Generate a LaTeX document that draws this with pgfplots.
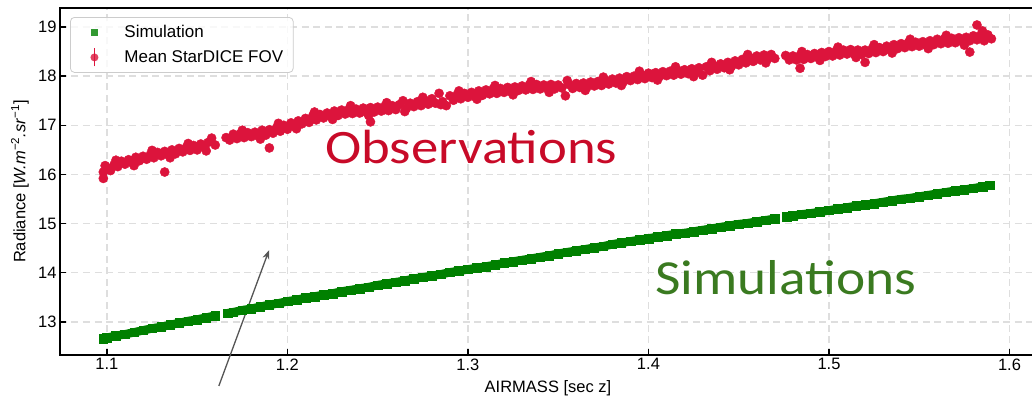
\documentclass[border=0pt]{standalone}
\usepackage{fontspec}
\setmainfont{Liberation Sans}
\newfontfamily\annfont{Carlito}
\usepackage{graphicx}
\usepackage{pgfplots}
\usepackage{pgfplotstable}
\pgfplotsset{compat=1.18}
\usetikzlibrary{arrows.meta}
\definecolor{simgreen}{RGB}{0,128,0}
\definecolor{obsred}{RGB}{220,20,60}
\definecolor{obstext}{RGB}{200,10,40}
\definecolor{simtext}{RGB}{58,122,32}
\definecolor{arrowgray}{RGB}{85,85,85}

\pgfplotstableread{
x y
1.098 12.66
1.100 12.68
1.105 12.72
1.110 12.75
1.115 12.79
1.120 12.83
1.125 12.87
1.130 12.90
1.135 12.94
1.140 12.98
1.145 13.02
1.150 13.05
1.155 13.09
1.160 13.13
1.163 nan
1.167 13.18
1.170 13.20
1.175 13.24
1.180 13.27
1.185 13.31
1.190 13.35
1.195 13.38
1.200 13.42
1.205 13.45
1.210 13.49
1.215 13.52
1.220 13.55
1.225 13.58
1.230 13.62
1.235 13.65
1.240 13.68
1.245 13.71
1.250 13.75
1.255 13.78
1.260 13.81
1.265 13.84
1.270 13.88
1.275 13.91
1.280 13.94
1.285 13.97
1.290 14.01
1.295 14.04
1.300 14.07
1.305 14.10
1.310 14.13
1.315 14.16
1.320 14.20
1.325 14.23
1.330 14.26
1.335 14.29
1.340 14.32
1.345 14.35
1.350 14.39
1.355 14.42
1.360 14.45
1.365 14.48
1.370 14.51
1.375 14.54
1.380 14.58
1.385 14.61
1.390 14.64
1.395 14.67
1.400 14.70
1.405 14.73
1.410 14.76
1.415 14.79
1.420 14.81
1.425 14.84
1.430 14.87
1.435 14.90
1.440 14.93
1.445 14.96
1.450 14.99
1.455 15.01
1.460 15.04
1.465 15.07
1.470 15.10
1.473 nan
1.4765 15.14
1.480 15.16
1.485 15.19
1.490 15.21
1.495 15.24
1.500 15.27
1.505 15.30
1.510 15.33
1.515 15.36
1.520 15.38
1.525 15.41
1.530 15.44
1.535 15.47
1.540 15.50
1.545 15.52
1.550 15.55
1.555 15.58
1.560 15.61
1.565 15.64
1.570 15.67
1.575 15.69
1.580 15.72
1.585 15.75
1.589 15.78
}\simdata

\pgfplotstableread{
x y
1.098 15.92
1.098 16.05
1.099 16.18
1.100 16.14
1.102 16.08
1.104 16.20
1.106 16.16
1.108 16.27
1.110 16.21
1.112 16.30
1.114 16.24
1.116 16.35
1.118 16.28
1.120 16.37
1.122 16.31
1.124 16.40
1.126 16.34
1.128 16.45
1.130 16.38
1.132 16.05
1.132 16.47
1.134 16.40
1.136 16.50
1.138 16.42
1.140 16.53
1.142 16.46
1.144 16.55
1.146 16.49
1.148 16.59
1.150 16.50
1.152 16.62
1.154 16.55
1.156 16.65
1.158 16.74
1.160 16.60
1.166 16.75
1.168 16.70
1.170 16.82
1.172 16.73
1.174 16.83
1.176 16.75
1.178 16.85
1.180 16.77
1.182 16.86
1.184 16.78
1.186 16.90
1.188 16.80
1.190 16.54
1.190 16.91
1.192 16.84
1.194 16.95
1.196 16.88
1.198 17.00
1.200 16.92
1.202 17.05
1.204 16.97
1.206 17.09
1.208 17.03
1.210 17.14
1.212 17.06
1.214 17.19
1.216 17.11
1.218 17.22
1.220 17.15
1.222 17.25
1.224 17.18
1.226 17.29
1.228 17.20
1.230 17.31
1.232 17.23
1.234 17.32
1.236 17.24
1.238 17.33
1.240 17.25
1.242 17.35
1.244 17.26
1.246 17.07
1.246 17.36
1.248 17.27
1.250 17.37
1.252 17.29
1.254 17.39
1.256 17.30
1.258 17.40
1.260 17.32
1.262 17.42
1.264 17.50
1.266 17.35
1.268 17.45
1.270 17.38
1.272 17.48
1.274 17.40
1.276 17.51
1.278 17.43
1.280 17.54
1.282 17.45
1.284 17.65
1.286 17.48
1.288 17.40
1.290 17.60
1.292 17.51
1.294 17.62
1.296 17.54
1.298 17.65
1.300 17.57
1.302 17.67
1.304 17.58
1.306 17.70
1.308 17.61
1.310 17.72
1.312 17.64
1.314 17.74
1.316 17.65
1.318 17.75
1.320 17.67
1.322 17.77
1.324 17.68
1.326 17.78
1.328 17.71
1.330 17.80
1.332 17.72
1.334 17.82
1.336 17.73
1.338 17.83
1.340 17.74
1.342 17.82
1.344 17.75
1.346 17.83
1.348 17.74
1.350 17.82
1.352 17.76
1.354 17.60
1.356 17.83
1.358 17.75
1.360 17.85
1.362 17.77
1.364 17.86
1.366 17.78
1.368 17.88
1.370 17.80
1.372 17.89
1.374 17.81
1.376 17.92
1.378 17.84
1.380 17.94
1.382 17.86
1.384 17.96
1.386 17.88
1.388 17.99
1.390 17.91
1.392 18.00
1.394 17.93
1.396 18.03
1.398 17.95
1.400 18.06
1.402 17.97
1.404 18.07
1.406 17.99
1.408 18.09
1.410 18.01
1.412 18.10
1.414 18.02
1.416 18.12
1.418 18.04
1.420 18.13
1.422 18.05
1.424 18.15
1.426 18.07
1.428 18.17
1.430 18.02
1.432 18.19
1.434 18.11
1.436 18.22
1.438 18.14
1.440 18.25
1.442 18.17
1.444 18.28
1.446 18.20
1.448 18.31
1.450 18.23
1.452 18.34
1.454 18.27
1.456 18.38
1.458 18.30
1.460 18.41
1.462 18.33
1.464 18.43
1.466 18.35
1.468 18.44
1.470 18.36
1.476 18.42
1.478 18.33
1.480 18.41
1.482 18.33
1.484 18.16
1.484 18.42
1.486 18.34
1.488 18.44
1.490 18.36
1.492 18.46
1.494 18.38
1.496 18.48
1.498 18.40
1.500 18.50
1.502 18.41
1.504 18.51
1.506 18.43
1.508 18.53
1.510 18.45
1.512 18.54
1.514 18.45
1.516 18.53
1.518 18.44
1.520 18.28
1.520 18.53
1.522 18.46
1.524 18.56
1.526 18.48
1.528 18.58
1.530 18.50
1.532 18.61
1.534 18.53
1.536 18.64
1.538 18.56
1.540 18.66
1.542 18.58
1.544 18.68
1.546 18.60
1.548 18.69
1.550 18.61
1.552 18.70
1.554 18.63
1.556 18.72
1.558 18.64
1.560 18.75
1.562 18.66
1.564 18.76
1.566 18.67
1.568 18.77
1.570 18.68
1.572 18.78
1.574 18.70
1.576 18.79
1.578 18.49
1.578 18.72
1.580 18.82
1.582 19.04
1.582 18.74
1.584 18.83
1.586 18.72
1.588 18.84
1.590 18.76
1.105 16.29
1.115 16.18
1.125 16.49
1.135 16.34
1.145 16.63
1.155 16.48
1.175 16.90
1.185 16.72
1.195 17.04
1.205 16.93
1.215 17.27
1.225 17.12
1.235 17.40
1.245 17.20
1.255 17.46
1.265 17.28
1.275 17.57
1.285 17.42
1.295 17.70
1.305 17.53
1.315 17.81
1.325 17.62
1.335 17.89
1.345 17.67
1.355 17.91
1.365 17.71
1.375 17.98
1.385 17.81
1.395 18.10
1.405 17.92
1.415 18.19
1.425 17.99
1.435 18.28
1.445 18.13
1.455 18.44
1.465 18.27
1.485 18.50
1.495 18.32
1.505 18.59
1.515 18.38
1.525 18.64
1.535 18.47
1.545 18.75
1.555 18.56
1.565 18.83
1.575 18.63
1.585 18.92
}\obsdata

\begin{document}
\begin{tikzpicture}
\begin{axis}[
  scale only axis, width=976pt, height=347pt,
  xmin=1.074, xmax=1.6147, ymin=12.329, ymax=19.386,
  xtick={1.1,1.2,1.3,1.4,1.5,1.6},
  xticklabels={1.1,1.2,1.3,1.4,1.5,1.6},
  ytick={13,14,15,16,17,18,19},
  tick pos=left,
  tick align=inside, major tick length=6pt,
  tick style={black, line width=1.3pt},
  axis line style={line width=1.3pt},
  grid=major,
  major grid style={black!13, line width=1.3pt, dash pattern=on 7pt off 4.5pt},
  /pgf/number format/assume math mode=true,
  ticklabel style={font=\fontsize{16.5}{20}\selectfont},
  label style={font=\fontsize{16.5}{20}\selectfont},
  xlabel={AIRMASS [sec z]},
  ylabel={Radiance [\textit{W.m}\textsuperscript{−2}\textit{.sr}\textsuperscript{−1}]},
  x label style={at={(axis description cs:0.5,0)}, anchor=base, yshift=-38pt},
  y label style={at={(axis description cs:-0.041,0.5)}, anchor=center},
  title={Date of observation = 2023\_05\_17},
  title style={at={(axis description cs:0.5,1)}, anchor=base, yshift=7pt, font=\fontsize{16.5}{20}\selectfont, text=black!75},
  clip=false,
  unbounded coords=jump,
  legend style={at={(axis description cs:0.0103,0.974)}, anchor=north west,
    draw=black!20, line width=0.8pt, rounded corners=4pt, fill=white,
    fill opacity=0.8, draw opacity=1, text opacity=1,
    font=\fontsize{17}{20}\selectfont, inner xsep=10pt, inner ysep=2.5pt,
    nodes={inner sep=0pt, draw=none, sharp corners}, column sep=0pt, row sep=0pt},
  legend cell align=left,
]
\addplot[simgreen, line width=8.5pt, no markers, forget plot]
  table[x=x, y=y] {\simdata};
\addplot[only marks, mark=square*, color=simgreen, mark size=4.3pt,
  legend image code/.code={\path[draw=none, fill=none, sharp corners] (0pt,-12.5pt) rectangle (44pt,12.5pt);
    \fill[simgreen, draw=none, sharp corners] (10.5pt,-3.5pt) rectangle (17.5pt,3.5pt);}]
  table[x=x, y=y] {\simdata};
\addlegendentry{Simulation}
\addplot[only marks, mark=*, color=obsred, mark size=4.6pt,
  legend image code/.code={\path[draw=none, fill=none, sharp corners] (0pt,-12.5pt) rectangle (44pt,12.5pt);
    \draw[obsred, line width=1.3pt, sharp corners, fill=none] (14pt,-9pt) -- (14pt,9pt);
    \fill[obsred, draw=none] (14pt,0pt) circle (4pt);}]
  table[x=x, y=y] {\obsdata};
\addlegendentry{Mean StarDICE FOV}

\node[anchor=base west, inner sep=0pt, text=obstext] at (axis cs:1.2208,16.23)
  {\scalebox{1.14}[1]{\annfont\fontsize{48}{56}\selectfont Observations}};
\node[anchor=base west, inner sep=0pt, text=simtext] at (axis cs:1.4036,13.55)
  {\scalebox{1.13}[1]{\annfont\fontsize{49}{56}\selectfont Simulations}};
\draw[-{Stealth[length=9pt,width=7pt]}, arrowgray, line width=1.3pt]
  (axis cs:1.162,11.70) -- (axis cs:1.1898,14.46);
\coordinate (SW) at (rel axis cs:0,0);
\end{axis}
\pgfresetboundingbox
\path[use as bounding box] (SW) ++(-60pt,-43pt) rectangle ++(1032pt,398pt);
\end{tikzpicture}
\end{document}
